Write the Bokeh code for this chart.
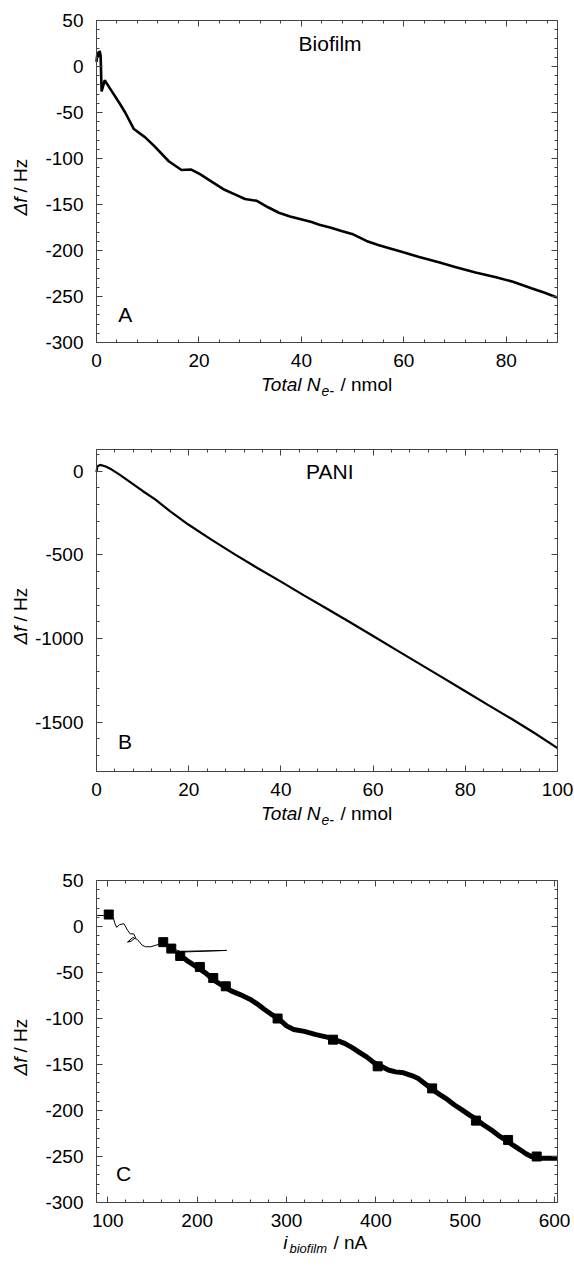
import math
from bokeh.plotting import figure
from bokeh.models import LinearAxis, Label, SingleIntervalTicker, Range1d, CustomJSTickFormatter
from bokeh.layouts import column
from bokeh.embed import file_html
from bokeh.resources import INLINE

FONT = "Liberation Sans"

# ---------------- data ----------------
# Panel A: Biofilm, Δf vs total electrons
a_x = [0, 0.2, 0.4, 0.6, 0.8, 1.0, 1.6, 3.0, 4.5, 5.6, 7.3, 9.5, 11.3, 14.1, 16.6, 18.5,
       20.2, 22.7, 25, 27, 29, 31.3, 33.5, 35.6, 37.8, 39.9, 42, 43.5, 45.6, 48, 49.9,
       52.7, 55, 57.5, 59.9, 63, 67, 70, 74, 78, 81.3, 84.9, 87.5, 89.9]
a_y = [5, 16, 10, 17, 12, -27, -15, -27, -40, -50, -68, -77, -86.5, -103, -112.5, -112,
       -117, -126, -134, -139, -144, -146, -153, -159, -163, -166, -169, -172, -175, -179, -182,
       -189.6, -194, -198, -202, -207, -213, -218, -224, -229, -234, -241, -246, -251]

# Panel B: PANI
b_x = [0, 0.2, 0.8, 2, 3.3, 5, 8, 10, 12.8, 16, 20, 25, 30, 35, 40, 45, 50, 55, 60,
       65, 70, 75, 80, 85, 90, 95, 100]
b_y = [-5, 30, 38, 28, 10, -20, -78, -118, -170, -240, -320, -410, -497, -580, -660, -742,
       -822, -903, -985, -1068, -1150, -1232, -1315, -1398, -1480, -1565, -1655]

# Panel C: Δf vs biofilm current (early thin trace, then dense band)
c_thin_x = [88, 95, 101, 106, 108, 110, 113, 118, 122, 125, 129, 131, 126, 122, 128, 133,
            138, 142, 148, 155, 160, 165, 172, 181, 233, 176, 182]
c_thin_y = [12, 12, 14, 10, 3, -1, 2, 3, -4, -8, -8, -12, -16, -17, -12, -14,
            -20, -22, -22, -20, -18, -20, -24, -27, -26, -28, -32]
c_x = [182, 190, 201, 210, 218, 228, 238, 248, 259, 267, 275, 284, 292, 300, 308, 320,
       333, 349, 357, 365, 374, 382, 390, 398, 406, 414, 422, 431, 440, 447, 455, 463,
       472, 480, 488, 496, 505, 513, 521, 529, 537, 545, 554, 562, 568, 574, 585, 603]
c_y = [-32, -38, -45, -51, -58, -64, -70, -74, -79, -84, -90, -96, -101, -108, -112, -114,
       -117.5, -121, -124, -127, -132, -137, -142, -148, -152, -156, -158, -159, -162, -165, -171, -177,
       -183, -188, -194, -199, -205, -210, -216, -221, -227, -232, -238, -243, -247, -250, -252, -252]
c_blob_x = [101, 162, 171, 181, 203, 218, 232, 290, 352, 402, 463, 512, 548, 580]
c_blob_y = [13, -17, -24, -32, -44, -56, -65, -100, -123, -152, -176, -211, -232, -250]

# ---------------- layout constants (pixels) ----------------
W = 574
LEFT, RIGHT = 96, 17
FW = W - LEFT - RIGHT     # frame width
FH = 322                  # frame height

PLAIN = CustomJSTickFormatter(code="return String(tick);")
EMPTY = CustomJSTickFormatter(code="return '';")


def style_axis(ax, interval, show_labels, standoff):
    ax.ticker = SingleIntervalTicker(interval=interval, num_minor_ticks=5)
    ax.axis_line_color = "#444444"
    ax.major_tick_line_color = "#444444"
    ax.minor_tick_line_color = "#444444"
    ax.major_tick_in = 6
    ax.major_tick_out = 0
    ax.minor_tick_in = 3
    ax.minor_tick_out = 0
    ax.axis_label = None
    if show_labels:
        ax.formatter = PLAIN
        ax.major_label_text_font = FONT
        ax.major_label_text_font_size = "19px"
        ax.major_label_text_color = "black"
        ax.major_label_standoff = standoff
    else:
        ax.formatter = EMPTY
        ax.major_label_standoff = 0


def make_panel(height, top, xr, yr, xint, yint):
    x0, x1 = xr
    y0, y1 = yr
    kx = FW / (x1 - x0)
    ky = FH / (y1 - y0)
    bottom = height - top - FH
    p = figure(width=W, height=height,
               x_range=Range1d(x0 - LEFT / kx, x1 + RIGHT / kx),
               y_range=Range1d(y0 - bottom / ky, y1 + top / ky),
               min_border=0, x_axis_location=None, y_axis_location=None,
               output_backend="svg", toolbar_location=None)
    p.title.visible = False
    p.grid.visible = False
    p.outline_line_color = None
    for place, loc, interval, show, bounds, so in [("below", y0, xint, True, xr, 11),
                                                   ("above", y1, xint, False, xr, 0),
                                                   ("left", x0, yint, True, yr, 13),
                                                   ("right", x1, yint, False, yr, 0)]:
        ax = LinearAxis(fixed_location=loc, bounds=bounds)
        style_axis(ax, interval, show, so)
        p.add_layout(ax, place)
    return p


def txt(p, x, y, text, dx=0, dy=0, size="19px", style="normal", align="center", angle=0.0):
    p.add_layout(Label(x=x, y=y, x_offset=dx, y_offset=dy, text=text, angle=angle,
                       text_align=align, text_baseline="middle", text_color="black",
                       text_font=FONT, text_font_style=style, text_font_size=size))


def add_titles(p, x0, y0, xparts):
    # y-axis title "Δf / Hz", rotated, anchored to the box's lower-left corner
    txt(p, x0, y0, "Δf", dx=-76, dy=145, style="italic", align="right", angle=math.pi / 2)
    txt(p, x0, y0, "/ Hz", dx=-76, dy=150, align="left", angle=math.pi / 2)
    for (t, dx, dy, size, style, align) in xparts:
        txt(p, x0, y0, t, dx=dx, dy=dy, size=size, style=style, align=align)


# ---------------- Panel A ----------------
pa = make_panel(419, 20, (0, 90), (-300, 50), 20, 50)
pa.line(a_x, a_y, line_color="black", line_width=2.6)
txt(pa, 45.6, 25, "Biofilm", size="21px")
txt(pa, 5.6, -270, "A", size="21px")
nmol_parts = [("Total N", 224, -42, "19px", "italic", "right"),
              ("e-", 225, -48, "14px", "italic", "left"),
              ("/ nmol", 244, -42, "19px", "normal", "left")]
add_titles(pa, 0, -300, nmol_parts)

# ---------------- Panel B ----------------
pb = make_panel(420, 30, (0, 100), (-1795, 130), 20, 500)
pb.line(b_x, b_y, line_color="black", line_width=2.2)
txt(pb, 50.6, 0, "PANI", size="21px")
txt(pb, 6.2, -1613, "B", size="21px")
add_titles(pb, 0, -1795, nmol_parts)

# ---------------- Panel C ----------------
pc = make_panel(418, 41, (87.3, 603.3), (-300, 50), 100, 50)
pc.line(c_thin_x, c_thin_y, line_color="black", line_width=1)
pc.line(c_x, c_y, line_color="black", line_width=5)
pc.scatter(c_blob_x, c_blob_y, marker="square", size=9, color="black")
txt(pc, 117.6, -269, "C", size="21px")
cur_parts = [("i", 191, -40, "19px", "italic", "right"),
             ("biofilm", 193, -46, "13px", "italic", "left"),
             ("/ nA", 237, -40, "19px", "normal", "left")]
add_titles(pc, 87.3, -300, cur_parts)

layout = column(pa, pb, pc, spacing=0)
open("out.html", "w").write(file_html(layout, INLINE))
